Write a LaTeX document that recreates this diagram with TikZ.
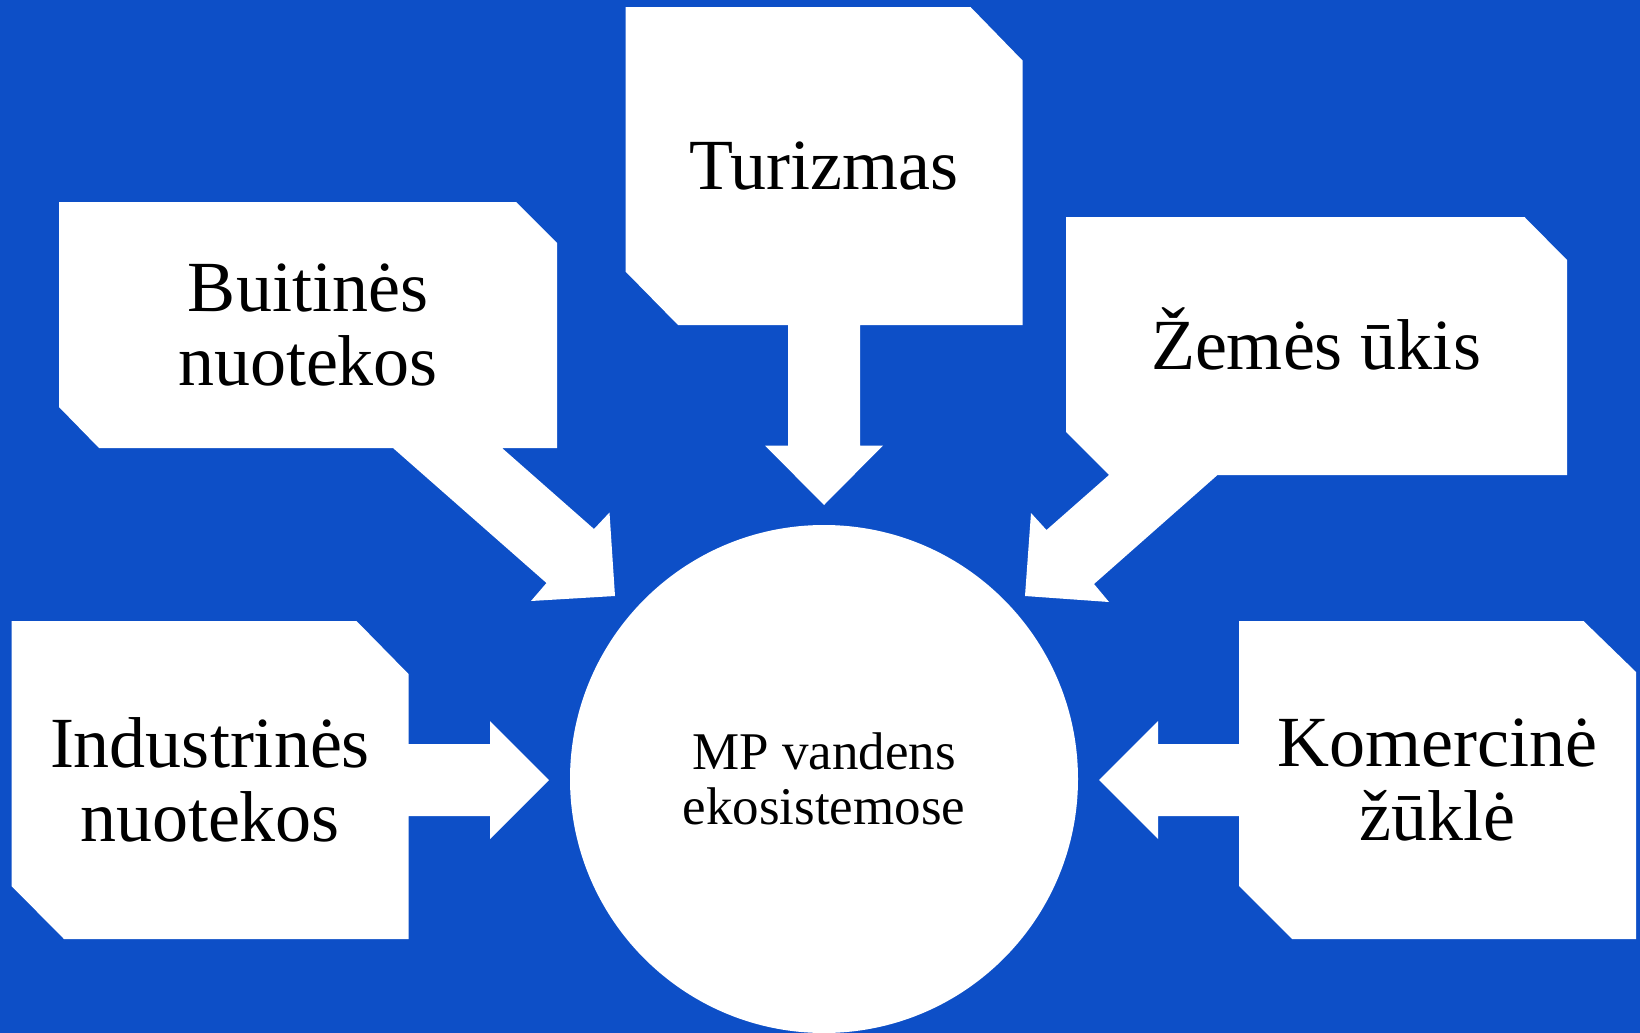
\documentclass[tikz,border=0pt]{standalone}
\usepackage{fontspec}
\setmainfont{Liberation Serif}
\usetikzlibrary{positioning}
\definecolor{ocean}{RGB}{13,79,199}

\begin{document}
\begin{tikzpicture}[x=0.5pt,y=-0.5pt, boxtext/.style={align=center,inner sep=0pt,font=\fontsize{36}{37}\selectfont}, blob/.style={fill=white}]

\fill[ocean] (0,0) rectangle (1640,1033);

% boxes with their block arrows
\fill[blob] (59,202) -- (516,202) -- (557,243) -- (557,448) -- (502,448) -- (594,529) -- (609.5,512.5) -- (615,596) -- (531,601) -- (546.5,583) -- (393,448) -- (99,448) -- (59,407) -- cycle;
\fill[blob] (625.5,7) -- (970.5,7) -- (1022.5,60.5) -- (1022.5,325) -- (860,325) -- (860,445.5) -- (883,445.5) -- (824,505) -- (765,445.5) -- (788,445.5) -- (788,325) -- (678,325) -- (625.5,271.5) -- cycle;
\fill[blob] (1066,217) -- (1524.5,217) -- (1567,260) -- (1567,475) -- (1217.5,475) -- (1094,584) -- (1109,602) -- (1025,596) -- (1031,513) -- (1046.5,530) -- (1109,475) -- (1066,432) -- cycle;
\fill[blob] (11.5,621) -- (356.5,621) -- (408.5,674) -- (408.5,744) -- (490,744) -- (490,721) -- (549,780) -- (490,839) -- (490,816) -- (408.5,816) -- (408.5,939) -- (64,939) -- (11.5,886) -- cycle;
\fill[blob] (1239,621) -- (1583.5,621) -- (1636,672) -- (1636,939) -- (1292,939) -- (1239,886) -- (1239,816) -- (1158,816) -- (1158,839) -- (1099,780) -- (1158,721) -- (1158,744) -- (1239,744) -- cycle;

\node[circle,fill=white,minimum size=254pt,inner sep=0pt,align=center,font=\fontsize{26.5}{27.7}\selectfont] (mp) at (824,779) {MP vandens\\ekosistemose};

\node[boxtext] (buit) at (308,325) {Buitinės\\nuotekos};
\node[boxtext] (tur) at (824,166) {Turizmas};
\node[boxtext] (zem) at (1316,339) {Žemės ūkis};
\node[boxtext] (ind) at (210,780) {Industrinės\\nuotekos};
\node[boxtext] (kom) at (1437.5,780) {Komercinė\\žūklė};
\end{tikzpicture}
\end{document}
